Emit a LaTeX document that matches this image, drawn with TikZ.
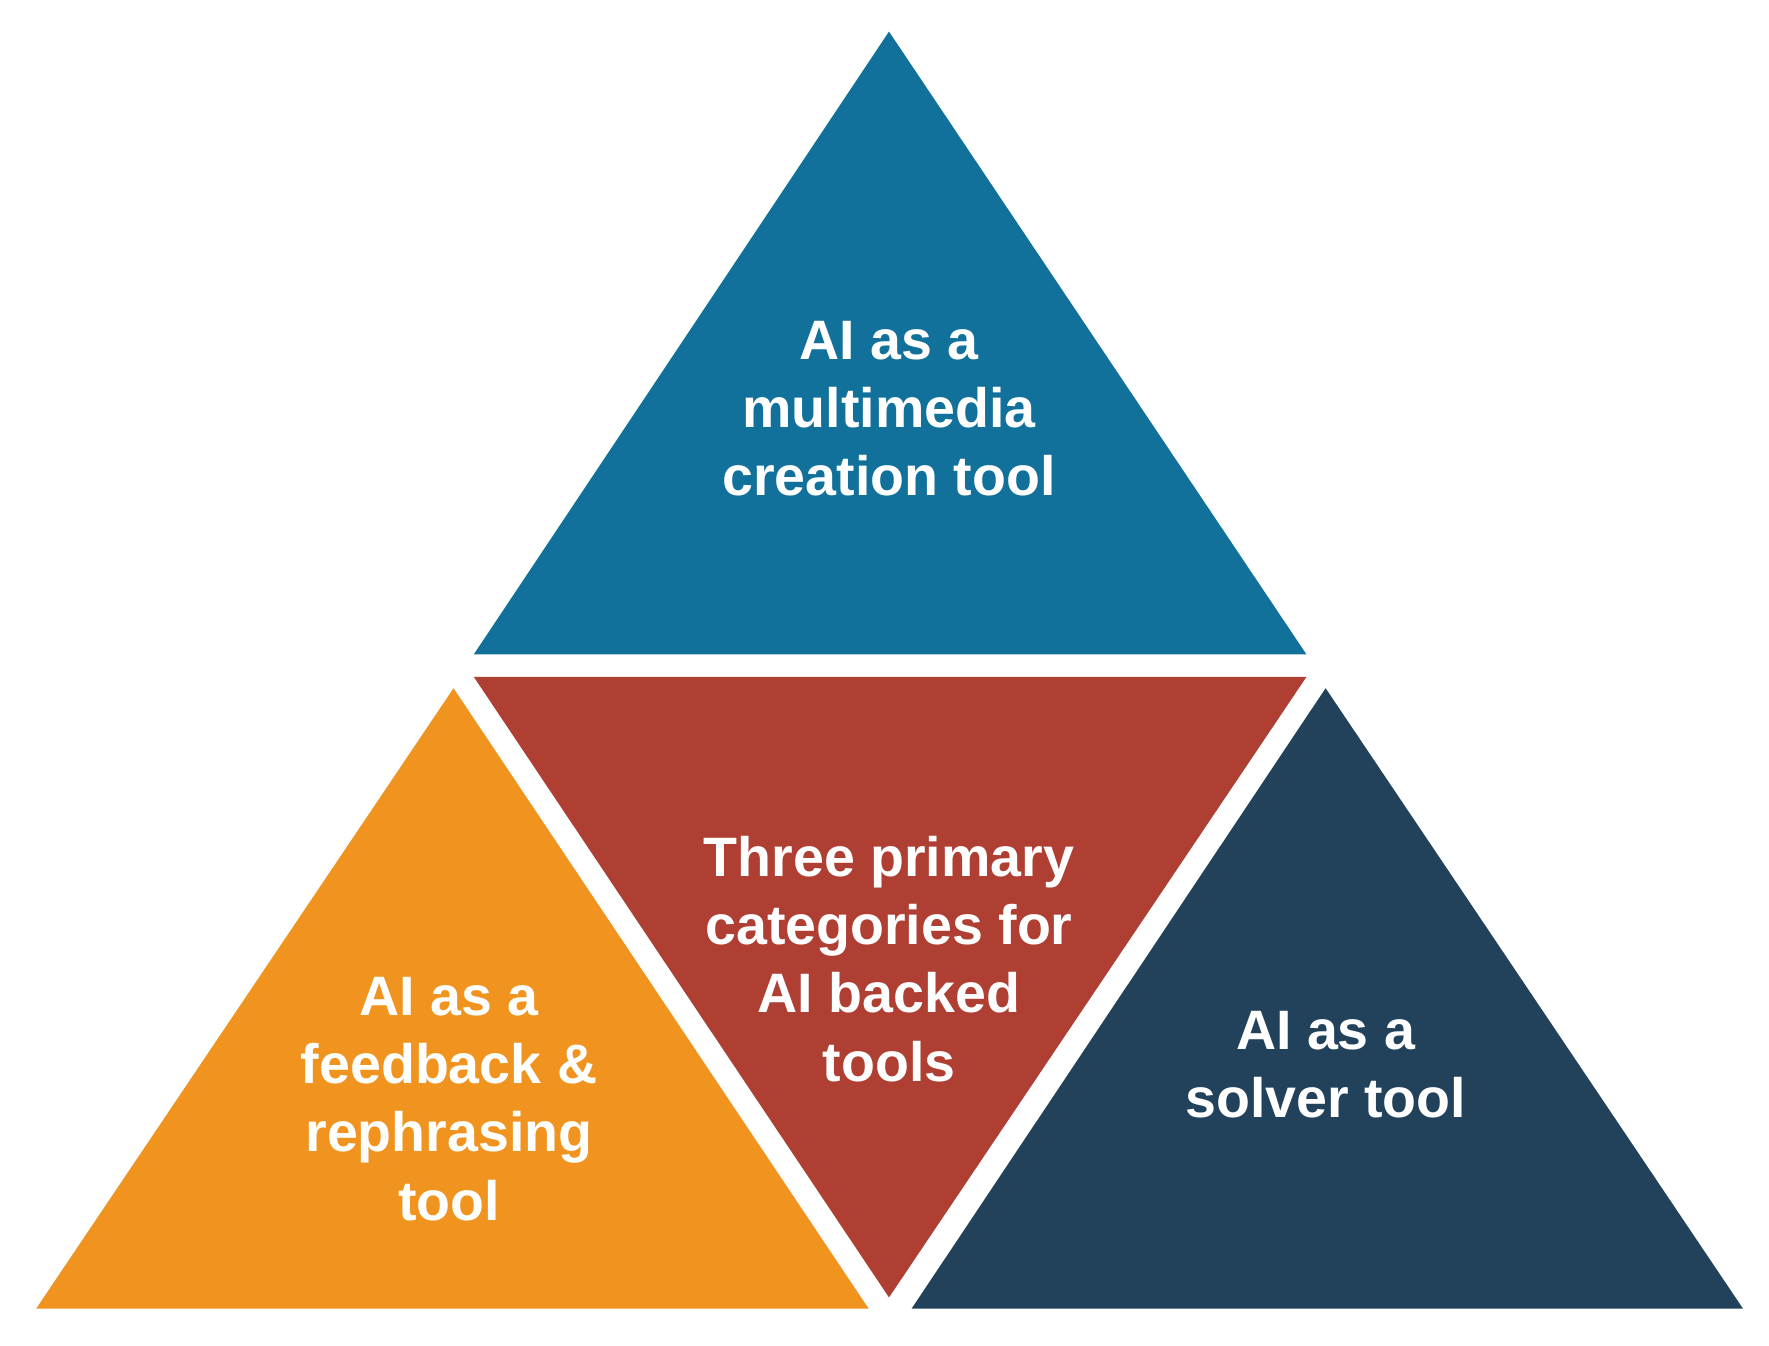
\documentclass[tikz,border=0pt]{standalone}
\usepackage{fontspec}
\setmainfont{Liberation Sans}
\definecolor{cTop}{HTML}{12719B}
\definecolor{cMid}{HTML}{AE3F32}
\definecolor{cLeft}{HTML}{F0941F}
\definecolor{cRight}{HTML}{22425C}
\begin{document}
\begin{tikzpicture}[x=0.01cm,y=-0.01cm,
  lbl/.style={text=white,font=\fontsize{14}{17.2}\selectfont\bfseries,align=center}]
\useasboundingbox (0,0) rectangle (1568,1193);
\fill[white] (0,0) rectangle (1568,1193);
\fill[cTop] (788,28) -- (1158,580) -- (420,580) -- cycle;
\fill[cMid] (420,600) -- (1158,600) -- (788,1150) -- cycle;
\fill[cLeft] (402,610) -- (770,1160) -- (32,1160) -- cycle;
\fill[cRight] (1175,610) -- (1545,1160) -- (808,1160) -- cycle;
\node[lbl] (t) at (788,362) {AI as a\\multimedia\\creation tool};
\node[lbl] (m) at (788,850) {Three primary\\categories for\\AI backed\\tools};
\node[lbl] (l) at (398,974) {AI as a\\feedback \&\\rephrasing\\tool};
\node[lbl] (r) at (1175,944) {AI as a\\solver tool};
\end{tikzpicture}
\end{document}
